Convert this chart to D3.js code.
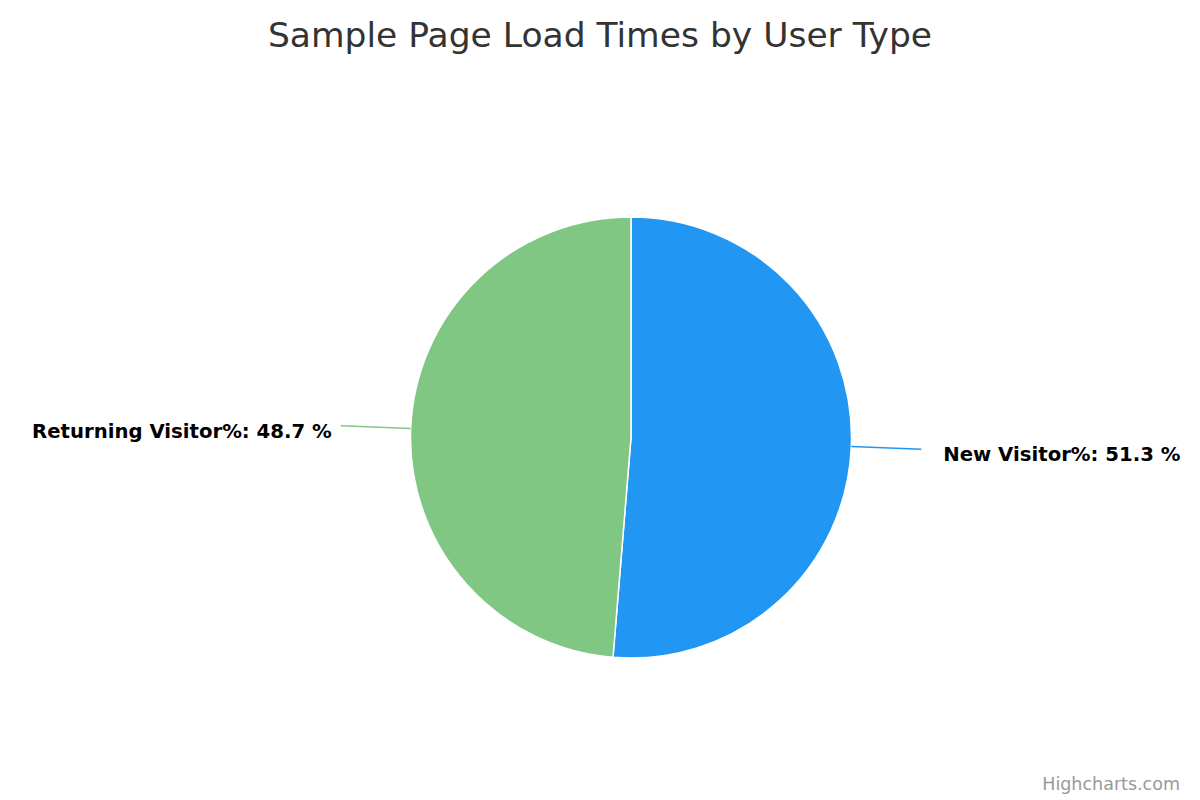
<!DOCTYPE html>
<html>
<head>
<meta charset="utf-8">
<script src="https://cdn.jsdelivr.net/npm/d3@7/dist/d3.min.js"></script>
<style>
  body { margin: 0; background: #fff; }
  svg { display: block; font-family: "DejaVu Sans", Verdana, sans-serif; }
</style>
</head>
<body>
<svg id="chart" width="1200" height="800"></svg>
<script>
// data
var categories = ['New Visitor', 'Returning Visitor'];
var shares = [51.3, 48.7];
var colors = ['#2196F3', '#81C784'];

var svg = d3.select('#chart');
var cx = 631, cy = 437.5, r = 220.5;

svg.append('text')
    .attr('x', 600).attr('y', 47)
    .attr('text-anchor', 'middle')
    .attr('font-size', 34.5)
    .attr('fill', '#333333')
    .text('Sample Page Load Times by User Type');

var pie = d3.pie().sort(null).value(function(d) { return d; });
var arcs = pie(shares);
var arc = d3.arc().innerRadius(0).outerRadius(r);

var g = svg.append('g').attr('transform', 'translate(' + cx + ',' + cy + ')');

g.selectAll('path.slice').data(arcs).enter()
    .append('path')
    .attr('class', 'slice')
    .attr('d', arc)
    .attr('fill', function(d, i) { return colors[i]; })
    .attr('stroke', '#ffffff')
    .attr('stroke-width', 1.5);

// connectors and labels
function pt(a, rad) { return [rad * Math.sin(a), -rad * Math.cos(a)]; }

arcs.forEach(function(d, i) {
    var mid = (d.startAngle + d.endAngle) / 2;
    var p0 = pt(mid, r), p1 = pt(mid, r + 70);
    var right = Math.sin(mid) > 0;
    g.append('line')
        .attr('x1', p0[0]).attr('y1', p0[1])
        .attr('x2', p1[0]).attr('y2', p1[1])
        .attr('stroke', colors[i])
        .attr('stroke-width', 1.5);
    g.append('text')
        .attr('x', p1[0] + (right ? 22 : -9))
        .attr('y', p1[1] + 12)
        .attr('text-anchor', right ? 'start' : 'end')
        .attr('font-size', 19.7)
        .attr('font-weight', 'bold')
        .attr('fill', '#000000')
        .text(categories[i] + '%: ' + d.data + ' %');
});

svg.append('text')
    .attr('x', 1180).attr('y', 790)
    .attr('text-anchor', 'end')
    .attr('font-size', 17.5)
    .attr('fill', '#999999')
    .text('Highcharts.com');
</script>
</body>
</html>
